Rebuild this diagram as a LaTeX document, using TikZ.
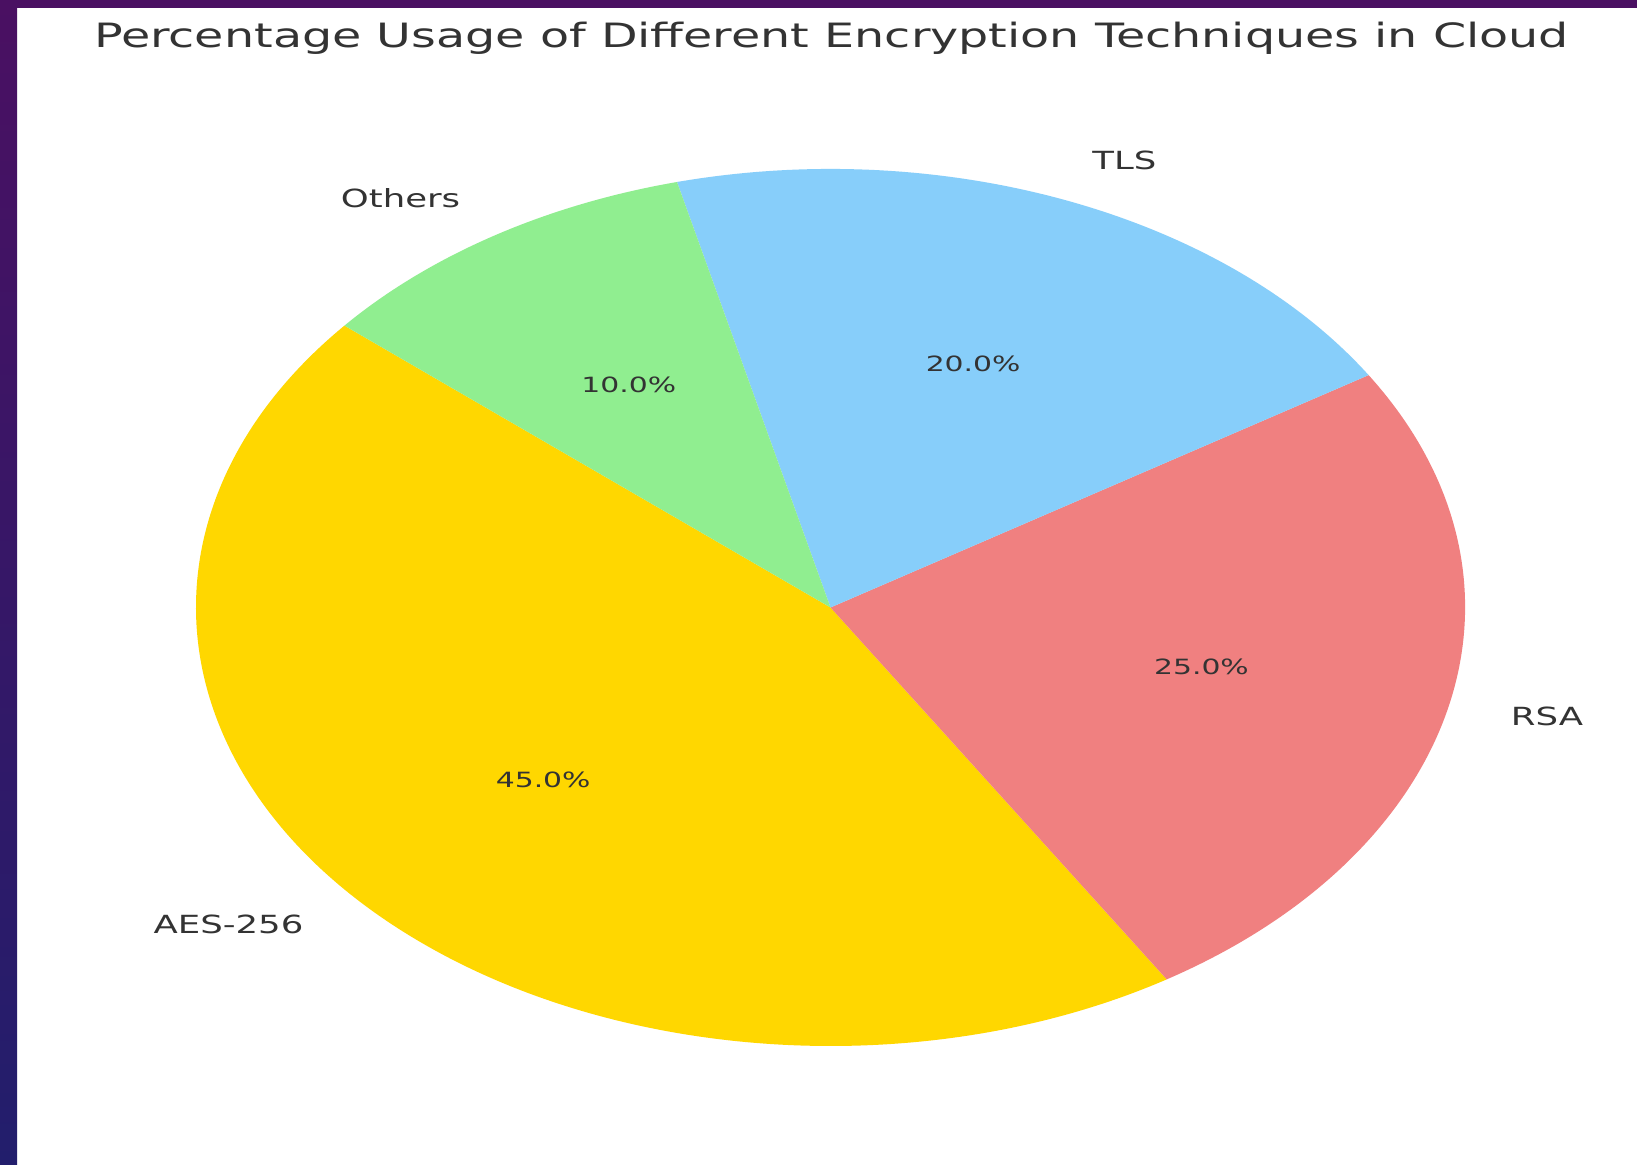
\documentclass[tikz,border=0pt]{standalone}
\usepackage{fontspec}
\usetikzlibrary{calc}
\newfontfamily\dvs[FakeStretch=1.42]{DejaVu Sans}
\definecolor{textgray}{HTML}{333333}
\definecolor{pgold}{HTML}{FFD700}
\definecolor{pcoral}{HTML}{F08080}
\definecolor{psky}{HTML}{87CEFA}
\definecolor{pgreen}{HTML}{90EE90}
\definecolor{bordertop}{HTML}{4A1062}
\definecolor{borderbot}{HTML}{221E6C}
\begin{document}
\begin{tikzpicture}[x=0.5pt,y=0.5pt,
  txt/.style={text=textgray, inner sep=0pt},
  lbl/.style={txt, font=\dvs\fontsize{12.5}{14}\selectfont},
  pct/.style={txt, font=\dvs\fontsize{10.5}{12}\selectfont},
  ttl/.style={txt, font=\dvs\fontsize{16.75}{20}\selectfont}]
\useasboundingbox (0,0) rectangle (1637,1165);
\fill[white] (0,0) rectangle (1637,1165);
\shade[top color=bordertop, bottom color=borderbot] (0,0) rectangle (17,1165);
\fill[bordertop] (0,1157) rectangle (1637,1165);
\coordinate (c) at (830.5,557.5);
% slices
\fill[pgold] (c) -- ++(140:634.5 and 438.5) arc[start angle=140, end angle=302, x radius=634.5, y radius=438.5] -- cycle;
\fill[pcoral] (c) -- ++(302:634.5 and 438.5) arc[start angle=302, end angle=392, x radius=634.5, y radius=438.5] -- cycle;
\fill[psky] (c) -- ++(32:634.5 and 438.5) arc[start angle=32, end angle=104, x radius=634.5, y radius=438.5] -- cycle;
\fill[pgreen] (c) -- ++(104:634.5 and 438.5) arc[start angle=104, end angle=140, x radius=634.5, y radius=438.5] -- cycle;
% title
\node[ttl] (title) at (831.5,1126.5) {Percentage Usage of Different Encryption Techniques in Cloud};
% labels
\node[lbl, anchor=east] (laes) at ($(c)+(221:697.95 and 482.35)$) {AES-256};
\node[lbl, anchor=west] (lrsa) at ($(c)+(347:697.95 and 482.35)$) {RSA};
\node[lbl, anchor=west] (ltls) at ($(c)+(68:697.95 and 482.35)$) {TLS};
\node[lbl, anchor=east] (loth) at ($(c)+(122:697.95 and 482.35)$) {Others};
% percentages
\node[pct] (paes) at ($(c)+(221:380.7 and 263.1)$) {45.0\%};
\node[pct] (prsa) at ($(c)+(347:380.7 and 263.1)$) {25.0\%};
\node[pct] (ptls) at ($(c)+(68:380.7 and 263.1)$) {20.0\%};
\node[pct] (poth) at ($(c)+(122:380.7 and 263.1)$) {10.0\%};
\end{tikzpicture}
\end{document}
